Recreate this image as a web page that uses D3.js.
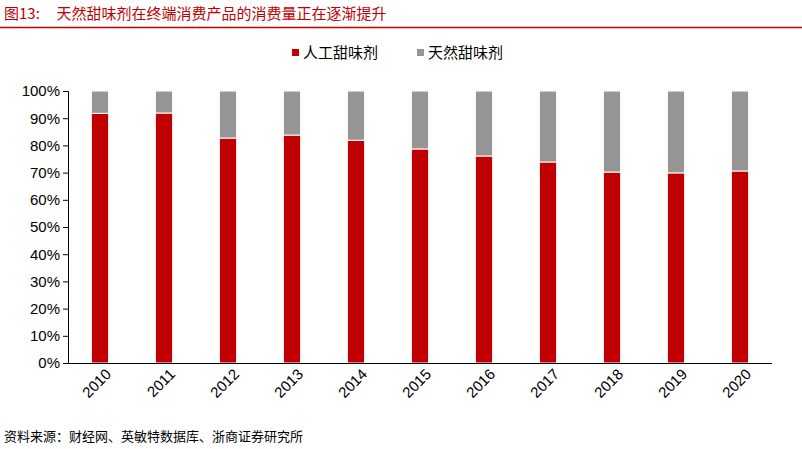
<!DOCTYPE html>
<html><head><meta charset="utf-8">
<script src="https://cdn.jsdelivr.net/npm/d3@7"></script>
<style>body{margin:0;background:#fff}svg{display:block;font-family:"Noto Sans CJK SC",sans-serif}</style>
</head><body><svg width="802" height="449"></svg>
<script>
let years = ['2010','2011','2012','2013','2014','2015','2016','2017','2018','2019','2020'];
let artificial = [91.8, 91.9, 82.7, 83.8, 81.9, 78.7, 76.1, 73.9, 70.2, 69.9, 70.6];
let natural = artificial.map(v => 100 - v);
let seriesNames = ['人工甜味剂', '天然甜味剂'];
let colors = ['#c00000', '#959595'];

let svg = d3.select('svg');
let x = d3.scaleBand().domain(years).range([68, 772]).paddingInner(0.73).paddingOuter(0.365);
let y = d3.scaleLinear().domain([0, 100]).range([363, 91]);

// title
svg.append('text').attr('x', 4).attr('y', 19).attr('fill', '#c00000')
    .attr('font-size', 15).attr('xml:space', 'preserve').text('图13:     天然甜味剂在终端消费产品的消费量正在逐渐提升');
svg.append('line').attr('x1', 0).attr('x2', 802).attr('y1', 27.5).attr('y2', 27.5)
    .attr('stroke', '#c00000').attr('stroke-width', 1.5);

// legend
let leg = svg.append('g').attr('font-size', 15).attr('fill', '#000');
[[292, 0], [417, 1]].forEach(([lx, i]) => {
    leg.append('rect').attr('x', lx).attr('y', 49).attr('width', 7).attr('height', 7).attr('fill', colors[i]);
    leg.append('text').attr('x', lx + 11).attr('y', 58).text(seriesNames[i]);
});

let stack = d3.stack().keys([0, 1]).value((d, k) => d[k]);
let rows = years.map((yr, i) => ({year: yr, 0: artificial[i], 1: natural[i]}));
svg.append('g').selectAll('g').data(stack(rows)).join('g')
    .attr('fill', (d, i) => colors[i])
    .selectAll('rect').data(d => d).join('rect')
    .attr('x', d => x(d.data.year)).attr('width', x.bandwidth())
    .attr('y', d => y(d[1])).attr('height', d => y(d[0]) - y(d[1]))
    .attr('stroke', '#fff').attr('stroke-width', 1);

// y axis
let ya = svg.append('g').attr('transform', 'translate(68,0)')
    .call(d3.axisLeft(y).ticks(10).tickSize(5).tickFormat(d => d + '%'));
ya.selectAll('text').attr('font-size', 15).attr('fill', '#000').attr('font-family', 'Liberation Sans, Arial');
ya.select('.domain').attr('d', 'M-5,91.5H0.5V363.5H-5');
// x axis
let xa = svg.append('g').attr('transform', 'translate(0,363)')
    .call(d3.axisBottom(x).tickSize(0).tickSizeOuter(0));
xa.select('.domain').attr('d', 'M68,0.5H772');
xa.selectAll('text').attr('font-size', 15).attr('fill', '#000').attr('font-family', 'Liberation Sans, Arial')
    .attr('text-anchor', 'end').attr('dy', 0)
    .attr('transform', 'translate(10,10) rotate(-45)');

// source
svg.append('text').attr('x', 4).attr('y', 441).attr('font-size', 13)
    .text('资料来源：财经网、英敏特数据库、浙商证券研究所');
</script></body></html>
